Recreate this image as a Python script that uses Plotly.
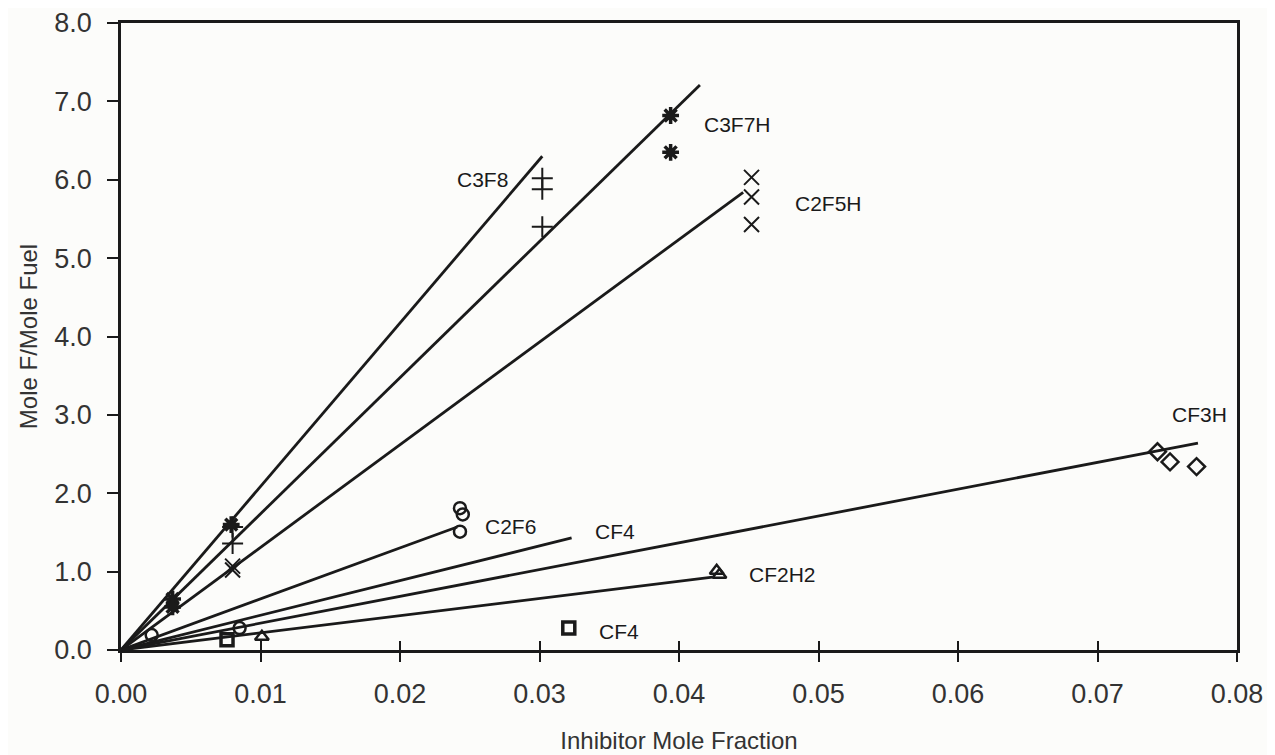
import plotly.graph_objects as go

# ---- data ----
# fitted lines from origin: end points (inhibitor mole fraction, mole F / mole fuel)
line_names = ["C3F8", "C3F7H", "C2F5H", "C2F6", "CF4", "CF3H", "CF2H2"]
line_end_x = [0.0302, 0.0415, 0.0446, 0.0241, 0.0323, 0.0772, 0.0424]
line_end_y = [6.30, 7.21, 5.84, 1.57, 1.43, 2.64, 0.93]

c3f8_x = [0.0302, 0.0302, 0.0302, 0.0080, 0.0080]
c3f8_y = [6.02, 5.88, 5.40, 1.57, 1.36]

c3f7h_x = [0.0394, 0.0394, 0.0037, 0.0037, 0.0079]
c3f7h_y = [6.82, 6.35, 0.65, 0.55, 1.60]

c2f5h_x = [0.0452, 0.0452, 0.0452, 0.0080, 0.0080]
c2f5h_y = [6.03, 5.78, 5.43, 1.07, 1.02]

c2f6_x = [0.0243, 0.0245, 0.0243, 0.0022, 0.0085]
c2f6_y = [1.81, 1.73, 1.51, 0.19, 0.28]

cf4_x = [0.0321, 0.0076]
cf4_y = [0.28, 0.13]

cf2h2_x = [0.0427, 0.0429, 0.0101]
cf2h2_y = [1.01, 0.96, 0.17]

cf3h_x = [0.0743, 0.0752, 0.0771]
cf3h_y = [2.53, 2.40, 2.34]

label_text = ["C3F8", "C3F7H", "C2F5H", "CF3H", "C2F6", "CF4", "CF2H2", "CF4"]
label_x = [0.0259, 0.0442, 0.0507, 0.0773, 0.0279, 0.0354, 0.0474, 0.0357]
label_y = [6.00, 6.70, 5.70, 3.01, 1.58, 1.51, 0.96, 0.24]

x_ticks = [0.00, 0.01, 0.02, 0.03, 0.04, 0.05, 0.06, 0.07, 0.08]
y_ticks = [0, 1, 2, 3, 4, 5, 6, 7, 8]

INK = "#1a1a1a"
BG = "#fcfcfa"
FONT = "Liberation Sans, Arial, sans-serif"

fig = go.Figure()

for name, ex, ey in zip(line_names, line_end_x, line_end_y):
    fig.add_trace(go.Scatter(x=[0, ex], y=[0, ey], mode="lines",
                             line=dict(color=INK, width=2.8),
                             showlegend=False, hoverinfo="skip", name=name))

def markers(xs, ys, symbol, size=12, width=2):
    fig.add_trace(go.Scatter(x=xs, y=ys, mode="markers", showlegend=False,
                             marker=dict(symbol=symbol, size=size, color=INK,
                                         line=dict(color=INK, width=width))))

markers(c3f8_x, c3f8_y, "cross-thin-open", 15)
markers(c3f7h_x, c3f7h_y, "asterisk-open", 14, 3.5)
markers(c2f5h_x, c2f5h_y, "x-thin-open", 15)
markers(c2f6_x, c2f6_y, "circle-open", 12, 2.5)
markers(cf4_x, cf4_y, "square-open", 12, 3.5)
markers(cf2h2_x, cf2h2_y, "triangle-up-open", 12, 2.5)
markers(cf3h_x, cf3h_y, "diamond-open", 13, 2.5)

for t, lx, ly in zip(label_text, label_x, label_y):
    fig.add_annotation(x=lx, y=ly, text=t, showarrow=False,
                       font=dict(family=FONT, size=21, color=INK))

# overlay axis to draw inside half of the crossing x ticks
fig.add_trace(go.Scatter(x=[0, 0.08], y=[0, 0], xaxis="x2", mode="lines",
                         line=dict(width=0), showlegend=False, hoverinfo="skip"))

fig.update_layout(
    width=1275, height=755,
    margin=dict(l=113, r=46, t=15, b=113, autoexpand=False),
    paper_bgcolor=BG, plot_bgcolor=BG,
    font=dict(family=FONT, color=INK),
    xaxis=dict(range=[0, 0.08], tickvals=x_ticks, tickformat=".2f",
               ticks="outside", ticklen=9, tickwidth=1.5, tickcolor=INK,
               showline=True, linecolor=INK, linewidth=2.5, mirror=True,
               showgrid=False, zeroline=False, automargin=False,
               tickfont=dict(size=27, color="#333"), ticklabelstandoff=9,
               title=dict(text="Inhibitor Mole Fraction", font=dict(size=24, color="#333"),
                          standoff=25)),
    xaxis2=dict(range=[0, 0.08], tickvals=x_ticks, overlaying="x", anchor="y",
                side="bottom", ticks="inside", ticklen=9, tickwidth=1.5,
                tickcolor=INK, showticklabels=False, showgrid=False,
                zeroline=False, showline=False, automargin=False),
    yaxis=dict(range=[0, 8], tickvals=y_ticks, tickformat=".1f",
               ticks="outside", ticklen=11, tickwidth=1.5, tickcolor=INK,
               showline=True, linecolor=INK, linewidth=2.5, mirror=True,
               showgrid=False, zeroline=False, automargin=False,
               tickfont=dict(size=27, color="#333"), ticklabelstandoff=10,
               title=dict(text="Mole F/Mole Fuel", font=dict(size=24, color="#333"),
                          standoff=10)),
)

fig.write_html("out.html")
